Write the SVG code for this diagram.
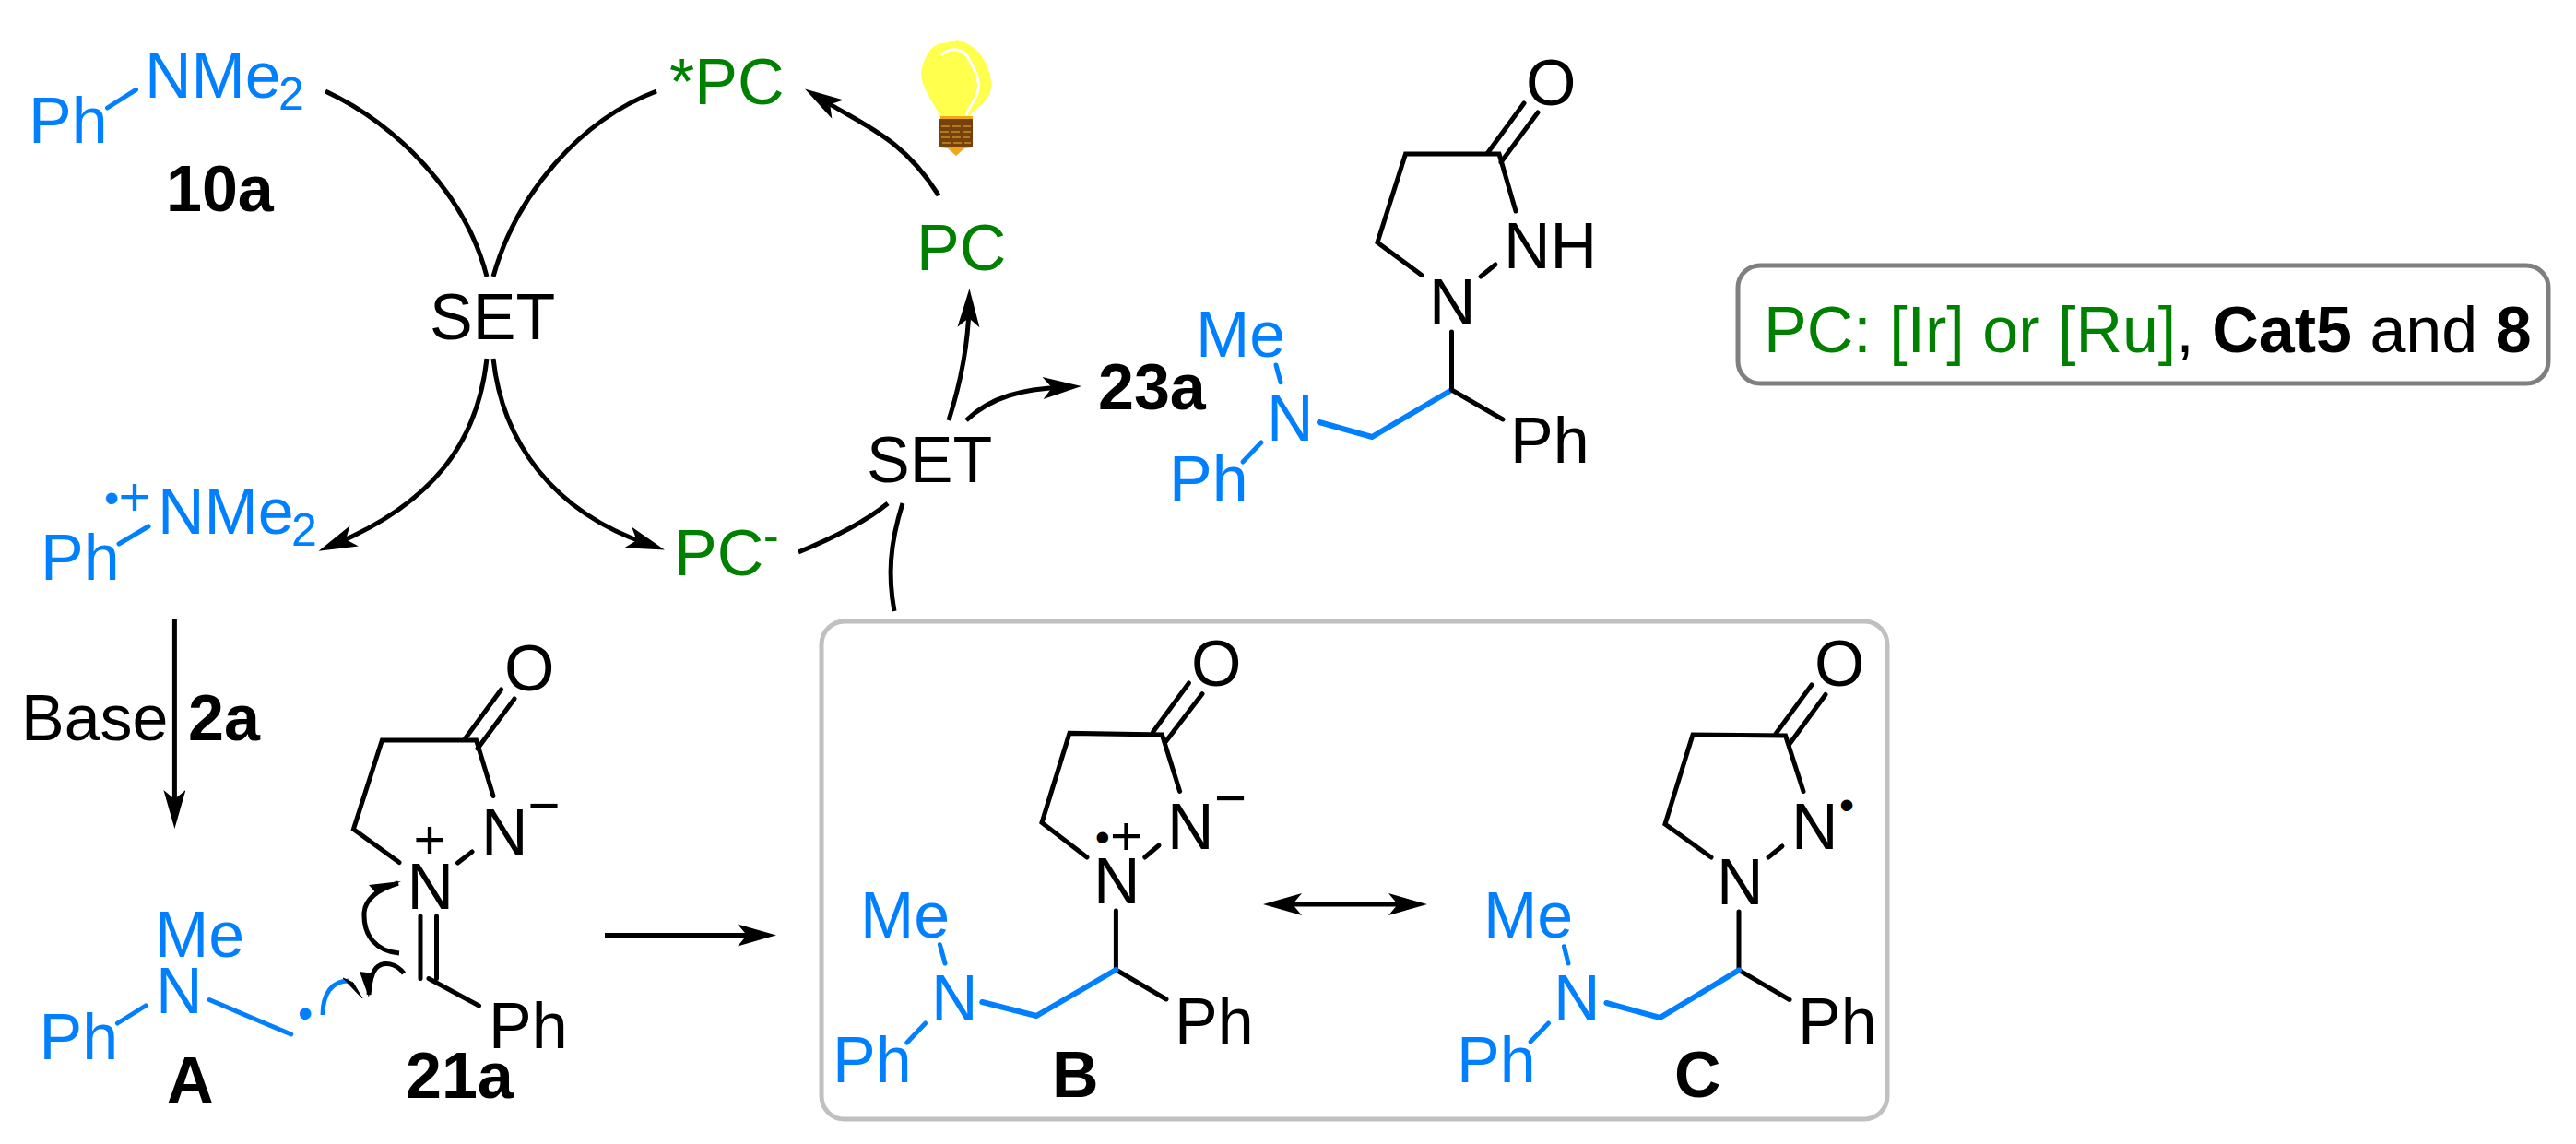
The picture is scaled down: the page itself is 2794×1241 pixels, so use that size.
<svg xmlns="http://www.w3.org/2000/svg" width="2794" height="1241" viewBox="0 0 2794 1241">
<defs>
<style>
text{font-family:"Liberation Sans",Arial,sans-serif;font-size:70px;fill:#000}
.blue{fill:#0080ff}
.green{fill:#008000}
.b{font-weight:bold}
.sub{font-size:50px}
.chg{font-size:60px;text-anchor:middle}
.dot{font-size:46px;text-anchor:middle}
.bond{fill:none;stroke:#000;stroke-width:5;stroke-linecap:round;stroke-linejoin:miter}
.bb{fill:none;stroke:#0080ff;stroke-width:5;stroke-linecap:round;stroke-linejoin:miter}
.arr{fill:none;stroke:#000;stroke-width:5;marker-end:url(#head)}
.arc{fill:none;stroke:#000;stroke-width:5}
</style>
<marker id="head" markerUnits="userSpaceOnUse" markerWidth="44" markerHeight="26" refX="22" refY="12" orient="auto-start-reverse" viewBox="0 0 44 26"><path d="M42,12 L0,0 L10,12 L0,24 Z" fill="#000"/></marker>
</defs>
<rect width="2794" height="1241" fill="#fff"/>

<g id="connectors">
<path class="arc" d="M353,99 C430,135 505,210 528,300"/>
<path class="arc" d="M712,99 C630,130 560,210 535,300"/>
<path class="arr" d="M528,389 C518,480 470,545 364,590"/>
<path class="arr" d="M535,389 C545,480 600,555 702,590"/>
<path class="arc" d="M866,599 C905,583 940,565 963,546"/>
<path class="arc" d="M979,546 C965,590 963,625 970,663"/>
<path class="arr" d="M1018,212 C980,150 935,135 890,107"/>
<path class="arr" d="M1029,456 C1042,415 1050,375 1051,333"/>
<path class="arr" d="M1048,456 C1075,430 1110,422 1153,420"/>
<path class="arr" d="M189.4,671 L189.4,879"/>
<path class="arr" d="M656,1014.4 L822,1014.4"/>
<path class="arr" d="M1390,981 L1528,981" style="marker-start:url(#head)"/>
</g>

<g id="node-10a">
<text class="blue" x="31" y="155">Ph</text>
<line class="bb" x1="116.5" y1="117" x2="147.5" y2="97.4"/>
<text class="blue" x="157" y="105.7">NMe<tspan class="sub" x="302" y="119">2</tspan></text>
<text class="b" x="180" y="229">10a</text>
</g>

<g id="node-star-pc"><text class="green" x="726" y="112.8">*PC</text></g>
<g id="node-set-1"><text x="466" y="368">SET</text></g>

<g id="node-radical-cation">
<text class="blue" x="44" y="629">Ph</text>
<line class="bb" x1="129" y1="590" x2="161" y2="571"/>
<text class="blue dot" x="121" y="556">•</text>
<text class="blue chg" x="146" y="559">+</text>
<text class="blue" x="171" y="579">NMe<tspan class="sub" x="316" y="592">2</tspan></text>
</g>

<g id="node-pc-minus"><text class="green" x="731" y="624">PC<tspan class="sub" x="828" y="598">-</tspan></text></g>

<g id="node-bulb">
<path d="M1038,43 C1050,46 1062,54 1068,66 C1074,78 1077,90 1074,100 C1070,112 1056,118 1050,128 L1020,128 C1014,112 1000,98 999,80 C1000,68 1008,50 1018,48 C1026,46 1032,46 1038,43 Z" fill="#ffff4d"/>
<path d="M1021,60 C1030,50 1046,52 1052,66 C1062,84 1064,94 1058,106 C1054,114 1050,118 1048,125" fill="none" stroke="#fff" stroke-width="3"/>
<path d="M1020,126 L1055,126 L1054,160 L1046,161 L1037,169 L1028,161 L1020,160 Z" fill="#f0a818"/>
<rect x="1019" y="129" width="36" height="31" fill="#74420a"/>
<path d="M1021,137 H1053 M1020,143 H1054 M1021,149 H1052 M1022,155 H1053" stroke="#c98a28" stroke-width="1.5" stroke-dasharray="9 3" fill="none"/>
</g>

<g id="node-pc"><text class="green" x="994" y="293">PC</text></g>
<g id="node-set-2"><text x="940" y="523">SET</text></g>
<g id="node-23a-label"><text class="b" x="1191" y="443.6">23a</text></g>

<g id="node-23a">
<text class="blue" x="1297" y="387">Me</text>
<line class="bb" x1="1384" y1="396" x2="1389" y2="414.6"/>
<text class="blue" x="1374" y="477.6">N</text>
<text class="blue" x="1268" y="544">Ph</text>
<line class="bb" x1="1368" y1="480" x2="1348" y2="501"/>
<path class="bb" d="M1431,458 L1488,474 L1574.5,423" style="stroke-width:6"/>
<path class="bond" d="M1574.5,423 V360 M1574.5,423 L1630,455"/>
<text x="1550" y="351.6">N</text>
<text x="1638" y="501.7">Ph</text>
<path class="bond" d="M1542,298.5 L1494,263 L1524.5,167 H1626 L1644,229"/>
<text x="1631" y="291">NH</text>
<line class="bond" x1="1606" y1="300" x2="1622" y2="287"/>
<text x="1655" y="114">O</text>
<path class="bond" d="M1613.5,166 L1653,112 M1628,176 L1668,122"/>
</g>

<g id="node-base"><text x="23" y="803">Base</text><text class="b" x="204" y="803">2a</text></g>

<g id="node-21a">
<text x="547" y="748.7">O</text>
<path class="bond" d="M504,802 L543.6,748 M518,812 L558,758"/>
<path class="bond" d="M433,935.6 L383.4,899.6 L414.4,803 H516.6 L535,863.5"/>
<text x="522" y="927">N</text>
<text class="chg" x="590" y="894">−</text>
<text class="chg" x="466" y="931">+</text>
<line class="bond" x1="496.5" y1="936" x2="512" y2="924"/>
<text x="441.5" y="986">N</text>
<path class="bond" d="M456,994 V1061.5 M473.5,994 V1061.5 M465,1061.5 L519.5,1091"/>
<text x="530" y="1137">Ph</text>
<text class="b" x="440" y="1191">21a</text>
</g>

<g id="node-a">
<text class="blue" x="168" y="1038">Me</text>
<text class="blue" x="169" y="1099">N</text>
<text class="blue" x="42.6" y="1148.7">Ph</text>
<line class="bb" x1="127.4" y1="1110" x2="158" y2="1091"/>
<line class="bb" x1="227" y1="1084.5" x2="315.7" y2="1122"/>
<text class="blue dot" x="331" y="1115">•</text>
<text class="b" x="181" y="1196">A</text>
</g>

<g id="electron-arrows">
<path d="M350,1101 C350,1078 360,1064 378,1064" fill="none" stroke="#0080ff" stroke-width="5"/>
<path d="M372,1061 L393,1083 L383,1066 Z" fill="#000" stroke="#000" stroke-width="1"/>
<path d="M438,1056 C430,1045 416,1042 408,1050 C403,1056 401,1066 400,1079" class="arc"/>
<path d="M390,1054 L400,1082 L405,1056 Z" fill="#000"/>
<path d="M433,1034 C408,1032 394,1015 395,990 C396,978 406,966 432,958" class="arc"/>
<path d="M400,960 L435,956 L409,970 Z" fill="#000"/>
</g>

<rect id="box-bc" x="891" y="674" width="1156" height="540" rx="25" ry="25" fill="none" stroke="#c0c0c0" stroke-width="5"/>

<g id="node-b">
<text x="1292" y="743.6">O</text>
<path class="bond" d="M1250.6,794 L1289.4,741 M1264,805 L1304,752.7"/>
<path class="bond" d="M1179,930 L1130,892.4 L1160,795.4 L1260.4,797 L1279.6,858.4"/>
<text x="1266" y="921">N</text>
<text class="chg" x="1334.5" y="886">−</text>
<line class="bond" x1="1241.7" y1="930" x2="1257" y2="917"/>
<text x="1186" y="980.4">N</text>
<text class="dot" x="1195.7" y="924">•</text>
<text class="chg" x="1221.6" y="927">+</text>
<path class="bond" d="M1210.4,988 V1052 L1265,1084"/>
<path class="bb" d="M1065.3,1087 L1124,1102 L1210.4,1052" style="stroke-width:6"/>
<text x="1274" y="1131.6">Ph</text>
<text class="blue" x="933" y="1017">Me</text>
<line class="bb" x1="1019.4" y1="1024.7" x2="1025" y2="1045"/>
<text class="blue" x="1010" y="1107">N</text>
<line class="bb" x1="1003.7" y1="1110" x2="983.7" y2="1131"/>
<text class="blue" x="903" y="1173.6">Ph</text>
<text class="b" x="1141" y="1190">B</text>
</g>

<g id="node-c">
<text x="1968" y="743.6">O</text>
<path class="bond" d="M1926,796 L1965,743 M1941,807 L1980,753.5"/>
<path class="bond" d="M1856,930 L1806,894 L1836,797 L1936.6,798 L1956,858.4"/>
<text x="1943" y="921">N</text>
<text class="dot" x="2003" y="889">•</text>
<line class="bond" x1="1918" y1="930" x2="1933" y2="918"/>
<text x="1862" y="981">N</text>
<path class="bond" d="M1886,989 V1052.4 L1941,1084.5"/>
<path class="bb" d="M1742.4,1088 L1800.4,1104 L1886,1052.4" style="stroke-width:6"/>
<text x="1950" y="1131.6">Ph</text>
<text class="blue" x="1609" y="1017">Me</text>
<line class="bb" x1="1696.4" y1="1026.7" x2="1701" y2="1045"/>
<text class="blue" x="1685" y="1107">N</text>
<line class="bb" x1="1679.5" y1="1110" x2="1660" y2="1130"/>
<text class="blue" x="1580" y="1173.6">Ph</text>
<text class="b" x="1816" y="1190">C</text>
</g>

<g id="node-legend">
<rect x="1885" y="288" width="879" height="128" rx="24" ry="24" fill="none" stroke="#7f7f7f" stroke-width="5"/>
<text x="1913" y="382"><tspan class="green">PC: [Ir] or [Ru]</tspan>, <tspan class="b">Cat5</tspan> and <tspan class="b">8</tspan></text>
</g>
</svg>
